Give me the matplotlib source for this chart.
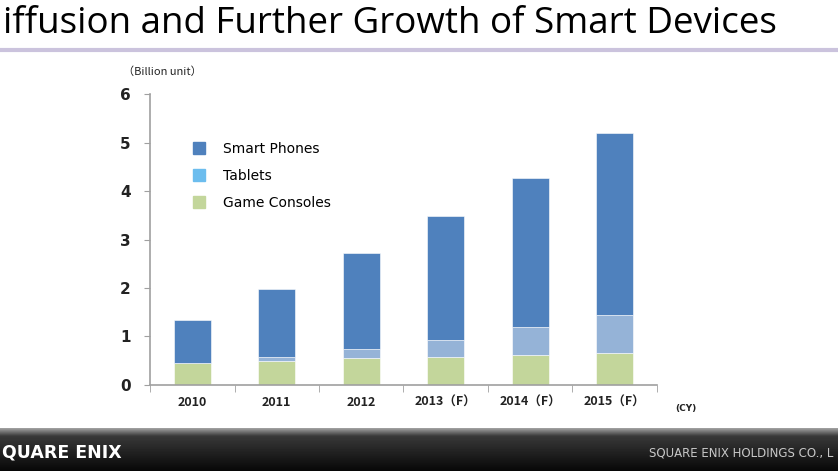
import numpy as np
import matplotlib.pyplot as plt
from matplotlib.patches import Patch

# Data (billion units)
years = ["2010", "2011", "2012", "2013（F）", "2014（F）", "2015（F）"]
game_consoles = [0.45, 0.50, 0.55, 0.58, 0.62, 0.66]
tablets = [0.00, 0.08, 0.19, 0.35, 0.57, 0.79]
smart_phones = [0.88, 1.40, 1.99, 2.55, 3.08, 3.74]

cjk = ['Noto Sans CJK JP', 'DejaVu Sans']

fig = plt.figure(figsize=(8.38, 4.71), dpi=100)
fig.patch.set_facecolor('white')

# title + purple rule
fig.text(0.003, 0.95, "iffusion and Further Growth of Smart Devices",
         fontsize=26.5, family='Open Sans', va='center', ha='left', color='black')
fig.add_artist(plt.Line2D([0, 1], [0.893, 0.893], color='#cbc3dd', lw=3))

# chart
ax = fig.add_axes([0.179, 0.183, 0.605, 0.617])
x = np.arange(len(years))
w = 0.44
gc = np.array(game_consoles)
tb = np.array(tablets)
sp = np.array(smart_phones)
ax.bar(x, gc, w, color='#c3d69b', edgecolor='white', linewidth=0.4)
ax.bar(x, tb, w, bottom=gc, color='#95b3d7', edgecolor='white', linewidth=0.4)
ax.bar(x, sp, w, bottom=gc + tb, color='#4f81bd', edgecolor='white', linewidth=0.4)

ax.set_xlim(-0.5, len(years) - 0.5)
ax.set_ylim(0, 6)
ax.set_yticks(range(7))
ax.set_yticklabels([str(v) for v in range(7)], fontsize=11, fontweight='bold',
                   color='#222222')
ax.set_xticks(x)
ax.set_xticklabels(years, fontsize=9, fontweight='bold', family=cjk, color='#222222')
ax.set_xticks(np.arange(len(years) + 1) - 0.5, minor=True)
ax.tick_params(axis='x', which='major', length=0, pad=8)
ax.tick_params(axis='x', which='minor', length=5, color='#a0a0a0', direction='out')
ax.tick_params(axis='y', length=4, color='#a0a0a0', direction='out', pad=10)
for s in ['top', 'right']:
    ax.spines[s].set_visible(False)
for s in ['left', 'bottom']:
    ax.spines[s].set_color('#a0a0a0')
    ax.spines[s].set_linewidth(1.2)

fig.text(0.147, 0.848, "（Billion unit）", fontsize=8, family=cjk,
         ha='left', va='center', color='#222222')
fig.text(0.806, 0.133, "(CY)", fontsize=6.5, fontweight='bold', ha='left',
         va='center', color='#222222')

handles = [Patch(color='#4f81bd', label='Smart Phones'),
           Patch(color='#6cbdee', label='Tablets'),
           Patch(color='#c3d69b', label='Game Consoles')]
leg = ax.legend(handles=handles, loc='upper left', bbox_to_anchor=(0.06, 0.88),
                frameon=False, fontsize=10, handlelength=0.9, handleheight=0.9,
                labelspacing=0.95, handletextpad=1.3)

# footer band
fax = fig.add_axes([0, 0, 1, 43 / 471])
grad = np.concatenate([np.linspace(0.62, 0.25, 8), np.linspace(0.22, 0.03, 35)])
fax.imshow(grad[:, None], cmap='gray', vmin=0, vmax=1, aspect='auto',
           extent=[0, 1, 0, 1])
fax.set_axis_off()
fax.text(0.002, 0.42, "QUARE ENIX", fontsize=12.5, fontweight='bold',
         color='white', ha='left', va='center', transform=fax.transAxes)
fax.text(0.775, 0.42, "SQUARE ENIX HOLDINGS CO., L", fontsize=8.5,
         color='#c8c8c8', ha='left', va='center', transform=fax.transAxes)

fig.savefig('out.png', dpi=100)
